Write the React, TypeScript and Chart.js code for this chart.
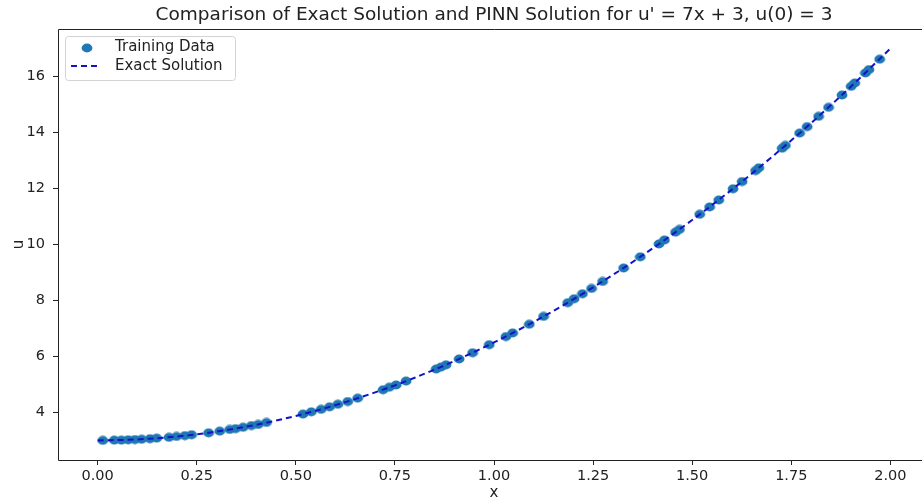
import React, { useEffect, useRef } from 'react';
import { Chart, registerables } from 'chart.js';

Chart.register(...registerables);

const TITLE = "Comparison of Exact Solution and PINN Solution for u' = 7x + 3, u(0) = 3";
const X_LABEL = 'x';
const Y_LABEL = 'u';
const LEGEND_LABELS = ['Training Data', 'Exact Solution'];

const trainX = [
  0.013, 0.042, 0.06, 0.077, 0.094, 0.111, 0.132, 0.149, 0.18, 0.199, 0.22, 0.237,
  0.28, 0.308, 0.333, 0.348, 0.367, 0.388, 0.405, 0.426,
  0.518, 0.539, 0.564, 0.585, 0.606, 0.631, 0.656,
  0.72, 0.736, 0.753, 0.778,
  0.854, 0.866, 0.879, 0.912, 0.946, 0.988, 1.03, 1.047, 1.089, 1.125,
  1.186, 1.202, 1.223, 1.246, 1.274, 1.327, 1.369,
  1.416, 1.43, 1.458, 1.468, 1.519, 1.544, 1.567, 1.603, 1.626, 1.66, 1.668,
  1.727, 1.735, 1.771, 1.79, 1.819, 1.844, 1.878, 1.901, 1.91, 1.937, 1.946, 1.973,
];
const trainU = [
  3.0, 3.01, 3.01, 3.02, 3.03, 3.04, 3.06, 3.08, 3.11, 3.14, 3.17, 3.2,
  3.27, 3.33, 3.39, 3.42, 3.47, 3.53, 3.57, 3.64,
  3.94, 4.02, 4.11, 4.2, 4.29, 4.39, 4.51,
  4.81, 4.9, 4.98, 5.12,
  5.55, 5.62, 5.7, 5.91, 6.13, 6.42, 6.71, 6.84, 7.15, 7.43,
  7.92, 8.06, 8.24, 8.43, 8.68, 9.16, 9.56,
  10.02, 10.16, 10.44, 10.54, 11.08, 11.34, 11.59, 11.99, 12.25, 12.64, 12.74,
  13.44, 13.54, 13.98, 14.21, 14.58, 14.9, 15.34, 15.65, 15.77, 16.13, 16.25, 16.62,
];

const exactX = [0, 0.1, 0.2, 0.3, 0.4, 0.5, 0.6, 0.7, 0.8, 0.9, 1.0, 1.1, 1.2, 1.3, 1.4, 1.5, 1.6, 1.7, 1.8, 1.9, 2.0];
const exactU = [3.0, 3.035, 3.14, 3.315, 3.56, 3.875, 4.26, 4.715, 5.24, 5.835, 6.5, 7.235, 8.04, 8.915, 9.86, 10.875, 11.96, 13.115, 14.34, 15.635, 17.0];

const xTicks = [0, 0.25, 0.5, 0.75, 1.0, 1.25, 1.5, 1.75, 2.0];
const yTicks = [4, 6, 8, 10, 12, 14, 16];

const X_MIN = -0.1;
const X_MAX = 2.1;
const Y_MIN = 2.3;
const Y_MAX = 17.7;

const POINT_COLOR = '#1f77b4';
const LINE_COLOR = 'rgb(18,18,200)';
const TEXT_COLOR = '#222222';
const FONT_FAMILY = '"DejaVu Sans", sans-serif';

function makeMarker(): HTMLCanvasElement {
  const c = document.createElement('canvas');
  c.width = 12;
  c.height = 10;
  const g = c.getContext('2d')!;
  g.fillStyle = POINT_COLOR;
  g.beginPath();
  g.ellipse(6, 5, 5.4, 4.4, 0, 0, Math.PI * 2);
  g.fill();
  return c;
}

export default function App() {
  const canvasRef = useRef<HTMLCanvasElement | null>(null);

  useEffect(() => {
    const canvas = canvasRef.current;
    if (!canvas) return;
    const marker = makeMarker();

    const decorPlugin = {
      id: 'decor',
      afterDatasetsDraw(chart: any) {
        const { ctx, chartArea } = chart;
        const { left, top, right, bottom } = chartArea;
        ctx.save();
        // frame
        ctx.strokeStyle = '#222';
        ctx.lineWidth = 1;
        ctx.beginPath();
        ctx.moveTo(left + 0.5, bottom + 0.5);
        ctx.lineTo(left + 0.5, top + 0.5);
        ctx.lineTo(right + 0.5, top + 0.5);
        ctx.lineTo(right + 0.5, bottom + 0.5);
        ctx.lineTo(left + 0.5, bottom + 0.5);
        ctx.stroke();

        // legend
        const lx = left + 7;
        const ly = top + 7;
        const lw = 170;
        const lh = 44;
        ctx.beginPath();
        ctx.roundRect(lx + 0.5, ly + 0.5, lw, lh, 3);
        ctx.fillStyle = 'rgba(255,255,255,0.85)';
        ctx.fill();
        ctx.strokeStyle = '#d3d3d3';
        ctx.stroke();

        ctx.drawImage(marker, lx + 22 - 6, ly + 12 - 5);
        ctx.strokeStyle = LINE_COLOR;
        ctx.lineWidth = 2;
        ctx.setLineDash([6, 4]);
        ctx.beginPath();
        ctx.moveTo(lx + 6, ly + 30);
        ctx.lineTo(lx + 36, ly + 30);
        ctx.stroke();
        ctx.setLineDash([]);

        ctx.fillStyle = TEXT_COLOR;
        ctx.font = '15px ' + FONT_FAMILY;
        ctx.textAlign = 'left';
        ctx.textBaseline = 'middle';
        ctx.fillText(LEGEND_LABELS[0], lx + 50, ly + 11);
        ctx.fillText(LEGEND_LABELS[1], lx + 50, ly + 30);

        // title
        ctx.font = '18.5px ' + FONT_FAMILY;
        ctx.textAlign = 'center';
        ctx.fillText(TITLE, (left + right) / 2, 15);
        ctx.restore();
      },
    };

    const chart = new Chart(canvas, {
      type: 'scatter',
      data: {
        datasets: [
          {
            type: 'line',
            label: LEGEND_LABELS[1],
            data: exactX.map((x, i) => ({ x, y: exactU[i] })),
            borderColor: LINE_COLOR,
            borderWidth: 2,
            borderDash: [6, 4],
            pointRadius: 0,
            fill: false,
            cubicInterpolationMode: 'monotone',
            order: 0,
          } as any,
          {
            type: 'scatter',
            label: LEGEND_LABELS[0],
            data: trainX.map((x, i) => ({ x, y: trainU[i] })),
            pointStyle: marker,
            backgroundColor: POINT_COLOR,
            borderWidth: 0,
            order: 1,
          } as any,
        ],
      },
      options: {
        animation: false,
        responsive: false,
        maintainAspectRatio: false,
        devicePixelRatio: 1,
        layout: { padding: { top: 29, right: 10, left: 0, bottom: 0 } },
        plugins: {
          legend: { display: false },
          title: { display: false },
          tooltip: { enabled: false },
        },
        scales: {
          x: {
            type: 'linear',
            min: X_MIN,
            max: X_MAX,
            afterFit: (s: any) => { s.height = 39; },
            afterBuildTicks: (s: any) => { s.ticks = xTicks.map((v) => ({ value: v })); },
            grid: { drawOnChartArea: false, drawTicks: true, tickLength: 5, tickColor: '#222', tickWidth: 1 },
            border: { display: false },
            ticks: {
              color: TEXT_COLOR,
              font: { family: FONT_FAMILY, size: 14.5 },
              padding: 3,
              maxRotation: 0,
              autoSkip: false,
              callback: (v: any) => Number(v).toFixed(2),
            },
            title: {
              display: true,
              text: X_LABEL,
              color: TEXT_COLOR,
              font: { family: FONT_FAMILY, size: 15, lineHeight: 0.8 },
              padding: { top: 0, bottom: 0 },
            },
          },
          y: {
            type: 'linear',
            min: Y_MIN,
            max: Y_MAX,
            afterFit: (s: any) => { s.width = 58; },
            afterBuildTicks: (s: any) => { s.ticks = yTicks.map((v) => ({ value: v })); },
            grid: { drawOnChartArea: false, drawTicks: true, tickLength: 5, tickColor: '#222', tickWidth: 1 },
            border: { display: false },
            ticks: {
              color: TEXT_COLOR,
              font: { family: FONT_FAMILY, size: 14.5 },
              padding: 8,
              autoSkip: false,
              callback: (v: any) => String(v),
            },
            title: {
              display: true,
              text: Y_LABEL,
              color: TEXT_COLOR,
              font: { family: FONT_FAMILY, size: 15, lineHeight: 1 },
              padding: { top: 12, bottom: 0 },
            },
          },
        },
      },
      plugins: [decorPlugin],
    } as any);

    return () => chart.destroy();
  }, []);

  return (
    <div style={{ position: 'fixed', left: 0, top: 0, width: 922, height: 499, overflow: 'hidden', background: '#fff' }}>
      <canvas ref={canvasRef} width={940} height={499} style={{ width: 940, height: 499, display: 'block' }} />
    </div>
  );
}
